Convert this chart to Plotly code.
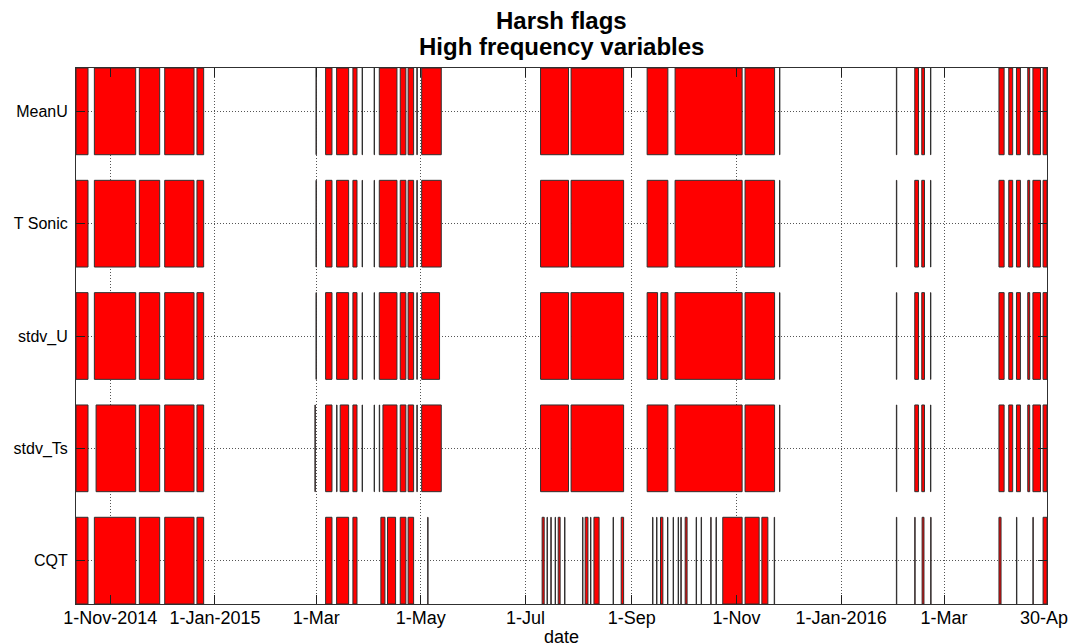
import plotly.graph_objects as go
import pandas as pd

# Row categories, top to bottom
rows = ["MeanU", "T Sonic", "stdv_U", "stdv_Ts", "CQT"]

# Flagged intervals (start, end) per variable
meanu = [
    ("2014-10-12 00:00", "2014-10-19 00:00"), ("2014-10-22 17:00", "2014-11-15 19:00"),
    ("2014-11-17 22:00", "2014-11-29 19:00"), ("2014-12-02 17:00", "2014-12-19 19:00"),
    ("2014-12-21 12:00", "2014-12-25 10:00"), ("2015-02-28 22:00", "2015-03-01 03:00"),
    ("2015-03-06 12:00", "2015-03-10 05:00"), ("2015-03-12 22:00", "2015-03-19 22:00"),
    ("2015-03-22 10:00", "2015-03-24 19:00"), ("2015-03-27 19:00", "2015-03-28 00:00"),
    ("2015-04-03 19:00", "2015-04-04 00:00"), ("2015-04-06 19:00", "2015-04-17 02:00"),
    ("2015-04-19 00:00", "2015-04-22 07:00"), ("2015-04-23 14:00", "2015-04-26 19:00"),
    ("2015-04-28 17:00", "2015-04-28 22:00"), ("2015-05-01 12:00", "2015-05-12 22:00"),
    ("2015-07-09 19:00", "2015-07-26 02:00"), ("2015-07-27 14:00", "2015-08-27 05:00"),
    ("2015-09-09 22:00", "2015-09-22 00:00"), ("2015-09-26 05:00", "2015-11-04 07:00"),
    ("2015-11-06 00:00", "2015-11-23 05:00"), ("2015-11-26 02:00", "2015-11-26 07:00"),
    ("2016-02-02 05:00", "2016-02-02 10:00"), ("2016-02-12 22:00", "2016-02-15 02:00"),
    ("2016-02-17 00:00", "2016-02-18 14:00"), ("2016-02-22 02:00", "2016-02-22 07:00"),
    ("2016-04-02 00:00", "2016-04-05 00:00"), ("2016-04-07 17:00", "2016-04-10 00:00"),
    ("2016-04-12 05:00", "2016-04-14 12:00"), ("2016-04-18 19:00", "2016-04-19 22:00"),
    ("2016-04-21 19:00", "2016-04-26 05:00"), ("2016-04-27 17:00", "2016-04-30 00:00"),
]

t_sonic = list(meanu)

stdv_u = [
    ("2014-10-12 00:00", "2014-10-19 00:00"), ("2014-10-22 17:00", "2014-11-15 19:00"),
    ("2014-11-17 22:00", "2014-11-29 19:00"), ("2014-12-02 17:00", "2014-12-19 19:00"),
    ("2014-12-21 12:00", "2014-12-25 10:00"), ("2015-02-28 22:00", "2015-03-01 03:00"),
    ("2015-03-06 12:00", "2015-03-10 05:00"), ("2015-03-12 22:00", "2015-03-19 22:00"),
    ("2015-03-22 10:00", "2015-03-24 19:00"), ("2015-03-27 19:00", "2015-03-28 00:00"),
    ("2015-04-03 19:00", "2015-04-04 00:00"), ("2015-04-06 19:00", "2015-04-17 02:00"),
    ("2015-04-19 00:00", "2015-04-22 07:00"), ("2015-04-23 14:00", "2015-04-26 19:00"),
    ("2015-04-28 17:00", "2015-04-28 22:00"), ("2015-05-01 12:00", "2015-05-11 22:00"),
    ("2015-07-09 19:00", "2015-07-26 02:00"), ("2015-07-27 14:00", "2015-08-27 05:00"),
    ("2015-09-09 22:00", "2015-09-16 00:00"), ("2015-09-17 22:00", "2015-09-22 00:00"),
    ("2015-09-26 05:00", "2015-11-04 07:00"),
    ("2015-11-06 00:00", "2015-11-23 05:00"), ("2015-11-26 02:00", "2015-11-26 07:00"),
    ("2016-02-02 05:00", "2016-02-02 10:00"), ("2016-02-12 22:00", "2016-02-15 02:00"),
    ("2016-02-17 00:00", "2016-02-18 14:00"), ("2016-02-22 02:00", "2016-02-22 07:00"),
    ("2016-04-02 00:00", "2016-04-05 00:00"), ("2016-04-07 17:00", "2016-04-10 00:00"),
    ("2016-04-12 05:00", "2016-04-14 12:00"), ("2016-04-18 19:00", "2016-04-19 22:00"),
    ("2016-04-21 19:00", "2016-04-26 05:00"), ("2016-04-27 17:00", "2016-04-30 00:00"),
]

stdv_ts = [
    ("2014-10-12 00:00", "2014-10-19 00:00"), ("2014-10-23 17:00", "2014-11-15 19:00"),
    ("2014-11-17 22:00", "2014-11-29 19:00"), ("2014-12-02 17:00", "2014-12-19 19:00"),
    ("2014-12-21 12:00", "2014-12-25 10:00"), ("2015-02-28 07:00", "2015-02-28 12:00"),
    ("2015-03-06 12:00", "2015-03-10 05:00"), ("2015-03-12 22:00", "2015-03-13 03:00"),
    ("2015-03-15 00:00", "2015-03-19 22:00"),
    ("2015-03-22 10:00", "2015-03-24 19:00"), ("2015-03-27 19:00", "2015-03-28 00:00"),
    ("2015-04-03 19:00", "2015-04-04 00:00"), ("2015-04-06 19:00", "2015-04-07 00:00"),
    ("2015-04-08 22:00", "2015-04-17 02:00"),
    ("2015-04-19 00:00", "2015-04-22 07:00"), ("2015-04-23 14:00", "2015-04-26 19:00"),
    ("2015-04-28 17:00", "2015-04-28 22:00"), ("2015-05-01 12:00", "2015-05-12 22:00"),
    ("2015-07-09 19:00", "2015-07-26 02:00"), ("2015-07-27 14:00", "2015-08-27 05:00"),
    ("2015-09-09 22:00", "2015-09-22 00:00"), ("2015-09-26 05:00", "2015-11-04 07:00"),
    ("2015-11-06 00:00", "2015-11-23 05:00"), ("2015-11-26 02:00", "2015-11-26 07:00"),
    ("2016-02-02 05:00", "2016-02-02 10:00"), ("2016-02-12 22:00", "2016-02-15 02:00"),
    ("2016-02-17 00:00", "2016-02-18 14:00"), ("2016-02-22 02:00", "2016-02-22 07:00"),
    ("2016-04-02 00:00", "2016-04-05 00:00"), ("2016-04-07 17:00", "2016-04-10 00:00"),
    ("2016-04-12 05:00", "2016-04-14 12:00"), ("2016-04-18 19:00", "2016-04-19 22:00"),
    ("2016-04-21 19:00", "2016-04-26 05:00"), ("2016-04-27 17:00", "2016-04-30 00:00"),
]

cqt = [
    ("2014-10-12 00:00", "2014-10-19 00:00"), ("2014-10-22 17:00", "2014-11-15 19:00"),
    ("2014-11-17 22:00", "2014-11-29 19:00"), ("2014-12-02 17:00", "2014-12-19 19:00"),
    ("2014-12-21 12:00", "2014-12-25 10:00"),
    ("2015-03-06 12:00", "2015-03-10 05:00"), ("2015-03-12 22:00", "2015-03-19 22:00"),
    ("2015-03-22 10:00", "2015-03-24 19:00"),
    ("2015-04-07 17:00", "2015-04-10 02:00"), ("2015-04-11 14:00", "2015-04-16 07:00"),
    ("2015-04-19 00:00", "2015-04-22 07:00"), ("2015-04-23 14:00", "2015-04-26 19:00"),
    ("2015-05-05 00:00", "2015-05-05 05:00"),
    ("2015-07-10 17:00", "2015-07-11 22:00"), ("2015-07-13 14:00", "2015-07-13 19:00"),
    ("2015-07-15 19:00", "2015-07-16 00:00"), ("2015-07-18 07:00", "2015-07-18 12:00"),
    ("2015-07-20 02:00", "2015-07-21 05:00"), ("2015-07-23 19:00", "2015-07-24 00:00"),
    ("2015-08-03 07:00", "2015-08-03 12:00"), ("2015-08-04 19:00", "2015-08-06 10:00"),
    ("2015-08-07 22:00", "2015-08-08 03:00"), ("2015-08-09 22:00", "2015-08-12 22:00"),
    ("2015-08-21 02:00", "2015-08-21 07:00"), ("2015-08-25 19:00", "2015-08-27 05:00"),
    ("2015-09-13 02:00", "2015-09-13 07:00"), ("2015-09-15 10:00", "2015-09-15 15:00"),
    ("2015-09-17 17:00", "2015-09-19 02:00"), ("2015-09-21 19:00", "2015-09-22 00:00"),
    ("2015-09-25 02:00", "2015-09-25 07:00"), ("2015-09-28 00:00", "2015-09-28 05:00"),
    ("2015-09-29 14:00", "2015-09-29 19:00"), ("2015-10-02 02:00", "2015-10-03 05:00"),
    ("2015-10-08 12:00", "2015-10-08 17:00"), ("2015-10-11 10:00", "2015-10-11 15:00"),
    ("2015-10-17 00:00", "2015-10-17 05:00"), ("2015-10-20 02:00", "2015-10-20 07:00"),
    ("2015-10-24 00:00", "2015-11-04 07:00"), ("2015-11-06 00:00", "2015-11-14 05:00"),
    ("2015-11-15 19:00", "2015-11-19 07:00"), ("2015-11-23 00:00", "2015-11-23 05:00"),
    ("2016-02-02 05:00", "2016-02-02 10:00"), ("2016-02-12 22:00", "2016-02-13 03:00"),
    ("2016-02-17 05:00", "2016-02-18 07:00"), ("2016-02-22 05:00", "2016-02-22 10:00"),
    ("2016-04-02 00:00", "2016-04-03 05:00"), ("2016-04-12 05:00", "2016-04-12 10:00"),
    ("2016-04-21 19:00", "2016-04-22 00:00"), ("2016-04-27 17:00", "2016-04-30 00:00"),
]

flags = {"MeanU": meanu, "T Sonic": t_sonic, "stdv_U": stdv_u, "stdv_Ts": stdv_ts, "CQT": cqt}

x_tickvals = ["2014-11-01", "2015-01-01", "2015-03-01", "2015-05-01", "2015-07-01",
              "2015-09-01", "2015-11-01", "2016-01-01", "2016-03-01", "2016-04-30"]
x_ticktext = ["1-Nov-2014", "1-Jan-2015", "1-Mar", "1-May", "1-Jul",
              "1-Sep", "1-Nov", "1-Jan-2016", "1-Mar", "30-Apr"]
x_range = ["2014-10-12", "2016-04-30"]

title_lines = ["Harsh flags", "High frequency variables"]
x_title = "date"

FONT = "Liberation Sans, Arial, Helvetica, sans-serif"

fig = go.Figure()
for name in rows:
    iv = flags[name]
    starts = pd.to_datetime([s for s, _ in iv])
    ends = pd.to_datetime([e for _, e in iv])
    dur_ms = [(e - s).total_seconds() * 1000 for s, e in zip(starts, ends)]
    fig.add_trace(go.Bar(
        orientation="h",
        y=[name] * len(iv),
        base=[s.strftime("%Y-%m-%d %H:%M") for s in starts],
        x=dur_ms,
        width=0.772,
        marker=dict(color="#ff0000", line=dict(color="#303030", width=1)),
        showlegend=False,
        hoverinfo="skip",
    ))

axis_common = dict(
    ticks="inside", ticklen=9, tickcolor="#202020",
    showline=True, linecolor="#303030", linewidth=1, mirror="ticks",
    showgrid=True, gridcolor="#555555", griddash="1px,2px", gridwidth=1,
    zeroline=False,
)

# the page body adds an 8px offset; figure size compensates so the plot area
# lands at the reference position in the 1076x644 window
fig.update_layout(
    width=1068, height=636,
    margin=dict(l=68, r=29, t=60, b=40, autoexpand=False),
    plot_bgcolor="white", paper_bgcolor="white",
    barmode="overlay",
    font=dict(family=FONT, color="black"),
    xaxis=dict(type="date", range=x_range, tickmode="array",
               tickvals=x_tickvals, ticktext=x_ticktext, automargin=False,
               ticklabelstandoff=-3,
               tickfont=dict(family=FONT, size=18, color="black"),
               **axis_common),
    yaxis=dict(type="category", categoryorder="array",
               categoryarray=rows[::-1], range=[-0.386, 4.386],
               automargin=False, ticklabelstandoff=4,
               tickfont=dict(family=FONT, size=16, color="black"),
               **axis_common),
    annotations=[
        dict(text="<b>%s</b>" % title_lines[0], x=0.5, xref="paper", y=1, yref="paper",
             yanchor="middle", yshift=48, showarrow=False,
             font=dict(family=FONT, size=24, color="black")),
        dict(text="<b>%s</b>" % title_lines[1], x=0.5, xref="paper", y=1, yref="paper",
             yanchor="middle", yshift=22, showarrow=False,
             font=dict(family=FONT, size=24, color="black")),
        dict(text=x_title, x=0.5, xref="paper", y=0, yref="paper",
             yanchor="top", yshift=-21, showarrow=False,
             font=dict(family=FONT, size=18, color="black")),
    ],
)

fig.write_html("out.html")
